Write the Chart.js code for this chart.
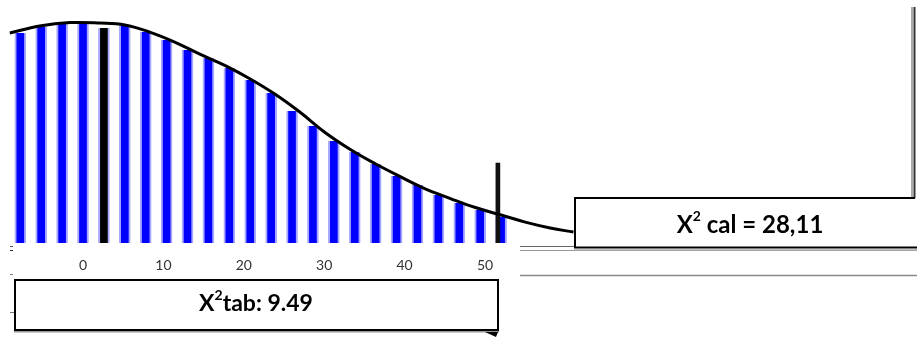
<!DOCTYPE html>
<html>
<head>
<meta charset="utf-8">
<script src="https://cdn.jsdelivr.net/npm/chart.js@4"></script>
<style>
  html, body { margin: 0; padding: 0; background: #fff; }
  #wrap { width: 917px; height: 338px; position: relative; }
</style>
</head>
<body>
<div id="wrap"><canvas id="chart"></canvas></div>
<script>
// --- data ---
const xTicks = [0, 10, 20, 30, 40, 50];

// blue stripes under the curve
const barX = [-7.8, -5.2, -2.6, 0, 5.2, 7.8, 10.4, 13, 15.6, 18.2, 20.8, 23.4, 26, 28.6, 31.2, 33.8, 36.4, 39, 41.6, 44.2, 46.8, 49.4, 52];
const barY = [86.4, 88.9, 90.5, 90.5, 89.7, 86.8, 83.5, 79.4, 76.1, 72.0, 67.1, 61.7, 54.3, 48.1, 42.0, 37.4, 32.5, 27.6, 23.9, 19.8, 16.5, 13.6, 10.7];

// the two black markers
const tabMarkX = [2.6];
const tabMarkY = [88.5];
const calMarkX = [51.6];
const calMarkY = [32.9];

// density curve
const curveX = [-9.1, -5.4, -1.6, 2.1, 5.2, 8.3, 11.4, 14.6, 17.7, 20.8, 23.9, 27, 30.1, 33.2, 36.3, 39.4, 42.5, 45.7, 48.8, 51.9, 55, 58.1, 61];
const curveY = [86.4, 89.3, 90.7, 90.5, 89.7, 86.8, 82.7, 77.6, 73.0, 67.5, 61.2, 53.8, 45.5, 38.6, 32.7, 27.4, 22.4, 18.3, 14.6, 11.6, 8.6, 6.2, 4.5];

const tabLabel = ['X', '2', 'tab: 9.49'];
const calLabel = ['X', '2', ' cal = 28,11'];

const toPoints = (xs, ys) => xs.map((x, i) => ({ x: x, y: ys[i] }));

function drawLabel(ctx, parts, cx, cy, size) {
    const big = `bold ${size}px Lato, "Open Sans", sans-serif`;
    const small = `bold ${Math.round(size * 0.6)}px Lato, "Open Sans", sans-serif`;
    ctx.font = big;
    const w0 = ctx.measureText(parts[0]).width;
    const w2 = ctx.measureText(parts[2]).width;
    ctx.font = small;
    const w1 = ctx.measureText(parts[1]).width;
    let x = cx - (w0 + w1 + w2) / 2;
    ctx.fillStyle = '#000';
    ctx.textBaseline = 'alphabetic';
    ctx.textAlign = 'left';
    ctx.font = big;
    ctx.fillText(parts[0], x, cy + size * 0.36);
    x += w0;
    ctx.font = small;
    ctx.fillText(parts[1], x, cy - size * 0.14);
    x += w1;
    ctx.font = big;
    ctx.fillText(parts[2], x, cy + size * 0.36);
}

function hLine(ctx, x1, x2, y, color, w) {
    ctx.strokeStyle = color;
    ctx.lineWidth = w;
    ctx.beginPath();
    ctx.moveTo(x1, y);
    ctx.lineTo(x2, y);
    ctx.stroke();
}

function vLine(ctx, x, y1, y2, color, w) {
    ctx.strokeStyle = color;
    ctx.lineWidth = w;
    ctx.beginPath();
    ctx.moveTo(x, y1);
    ctx.lineTo(x, y2);
    ctx.stroke();
}

// boxes, stray rules and labels drawn over the chart
const boxesPlugin = {
    id: 'boxes',
    afterDraw(chart) {
        const ctx = chart.ctx;
        ctx.save();

        // left stubs of the grid rules
        hLine(ctx, 10, 13, 246.5, '#555', 1);
        hLine(ctx, 10, 13, 250.5, '#333', 1);
        hLine(ctx, 10, 13, 274.5, '#777', 1);
        hLine(ctx, 10, 15, 312.5, '#777', 1);

        // rules on the right
        hLine(ctx, 520, 917, 246.5, '#666', 1);
        hLine(ctx, 520, 917, 250.5, '#999', 1);
        hLine(ctx, 520, 917, 275.5, '#888', 1.5);

        // X2 tab box
        ctx.fillStyle = '#fff';
        ctx.fillRect(15, 279, 483, 51);
        hLine(ctx, 14, 499, 331.5, '#999', 2);
        ctx.strokeStyle = '#000';
        ctx.lineWidth = 2;
        ctx.strokeRect(15, 280, 483, 50);
        ctx.fillStyle = '#000';
        ctx.beginPath();
        ctx.moveTo(485, 332);
        ctx.lineTo(498, 332);
        ctx.lineTo(496, 337);
        ctx.closePath();
        ctx.fill();
        drawLabel(ctx, tabLabel, 256, 303, 23);

        // X2 cal box
        ctx.fillStyle = '#fff';
        ctx.fillRect(575, 199, 342, 48);
        vLine(ctx, 912, 7, 198, '#aaa', 2);
        vLine(ctx, 914.5, 7, 198, '#333', 2);
        hLine(ctx, 574, 915, 198, '#000', 2);
        vLine(ctx, 575, 198, 248, '#000', 2);
        hLine(ctx, 574, 917, 247.5, '#000', 2);
        hLine(ctx, 574, 917, 250, '#aaa', 1.5);
        drawLabel(ctx, calLabel, 750, 224, 24);

        ctx.restore();
    }
};

const ctx = document.getElementById('chart').getContext('2d');
new Chart(ctx, {
    type: 'bar',
    data: {
        datasets: [
            {
                type: 'line',
                data: toPoints(curveX, curveY),
                borderColor: '#000',
                borderWidth: 3,
                pointRadius: 0,
                tension: 0.4,
                fill: false,
                clip: false,
                order: 0
            },
            {
                data: toPoints(calMarkX, calMarkY),
                backgroundColor: '#111',
                barThickness: 4,
                grouped: false,
                order: 1
            },
            {
                data: toPoints(tabMarkX, tabMarkY),
                backgroundColor: '#000',
                borderColor: '#a8a8ff',
                borderWidth: { left: 2, right: 2, top: 0, bottom: 0 },
                barThickness: 11,
                grouped: false,
                order: 2
            },
            {
                data: toPoints(barX, barY),
                backgroundColor: '#0000ff',
                borderColor: '#a8a8ff',
                borderWidth: { left: 2, right: 2, top: 0, bottom: 0 },
                barThickness: 11,
                grouped: false,
                order: 3
            }
        ]
    },
    options: {
        responsive: true,
        maintainAspectRatio: false,
        animation: false,
        layout: { padding: { left: 10, right: 4, top: 0, bottom: 0 } },
        scales: {
            x: {
                type: 'linear',
                min: -9.08,
                max: 103.23,
                offset: false,
                grid: { display: false, drawTicks: false },
                border: { display: false },
                afterBuildTicks: (scale) => {
                    scale.ticks = xTicks.map(v => ({ value: v }));
                },
                afterFit: (scale) => { scale.height = 95; },
                ticks: {
                    autoSkip: false,
                    maxRotation: 0,
                    padding: 14,
                    color: '#333',
                    font: { family: 'Lato, "Open Sans", sans-serif', size: 14 }
                }
            },
            y: {
                display: false,
                min: 0,
                max: 100
            }
        },
        plugins: {
            legend: { display: false },
            tooltip: { enabled: false }
        }
    },
    plugins: [boxesPlugin]
});
</script>
</body>
</html>
